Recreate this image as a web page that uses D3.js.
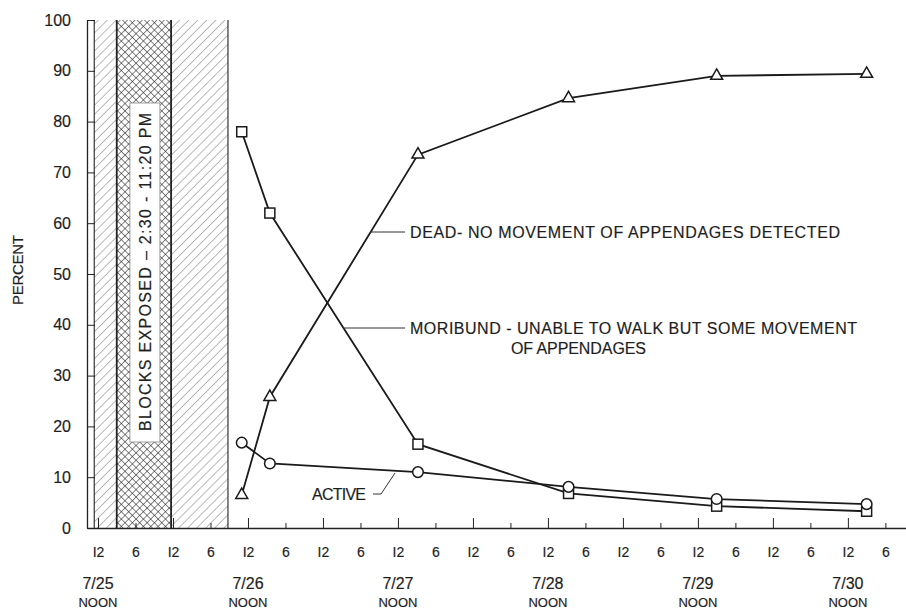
<!DOCTYPE html>
<html>
<head>
<meta charset="utf-8">
<script src="https://cdn.jsdelivr.net/npm/d3@7"></script>
<style>
  html, body { margin: 0; padding: 0; background: #fff; }
  svg { display: block; }
  text { font-family: "Liberation Sans", Arial, sans-serif; fill: #1e1e1e; stroke: #1e1e1e; stroke-width: 0.18px; }
</style>
</head>
<body>
<script>
// Observation times, in hours counted from midnight starting 7/25
const obsHours = [35, 39.5, 63.2, 87.3, 111, 135];

// Percent of insects in each condition at each observation
const deadPct     = [6.5, 25.8, 73.5, 84.6, 89.0, 89.4];
const moribundPct = [78.0, 62.0, 16.5, 6.8, 4.3, 3.3];
const activePct   = [16.8, 12.7, 11.0, 8.1, 5.7, 4.7];

// Shaded periods (hours from 7/25 midnight)
const shadedSpan  = [11.4, 32.8];
const exposedSpan = [15.0, 23.7];

// Axis ticks and labels
const yTicks = [0, 10, 20, 30, 40, 50, 60, 70, 80, 90, 100];
const xTickHours = d3.range(12, 139, 6);
const dayLabels = ["7/25", "7/26", "7/27", "7/28", "7/29", "7/30"];
const dayNoonHours = [12, 36, 60, 84, 108, 132];

const W = 906, H = 610;
const svg = d3.select("body").append("svg").attr("width", W).attr("height", H);

const x = d3.scaleLinear().domain([10.24, 141.3]).range([87, 906]);
const y = d3.scaleLinear().domain([0, 100]).range([528, 20]);

// Fill patterns
const defs = svg.append("defs");
defs.append("pattern")
  .attr("id", "hatch").attr("patternUnits", "userSpaceOnUse")
  .attr("width", 6.4).attr("height", 6.4)
  .attr("patternTransform", "rotate(45)")
  .append("line").attr("x1", 0).attr("y1", 0).attr("x2", 0).attr("y2", 6.4)
  .attr("stroke", "#5c5c5c").attr("stroke-width", 0.85);
const cross = defs.append("pattern")
  .attr("id", "cross").attr("patternUnits", "userSpaceOnUse")
  .attr("width", 5.2).attr("height", 5.2)
  .attr("patternTransform", "rotate(45)");
cross.append("line").attr("x1", 0).attr("y1", 0).attr("x2", 0).attr("y2", 5.2)
  .attr("stroke", "#222").attr("stroke-width", 1.1);
cross.append("line").attr("x1", 0).attr("y1", 0).attr("x2", 5.2).attr("y2", 0)
  .attr("stroke", "#222").attr("stroke-width", 1.1);

// Shaded period and exposure period
svg.append("rect")
  .attr("x", x(shadedSpan[0])).attr("y", y(100))
  .attr("width", x(shadedSpan[1]) - x(shadedSpan[0])).attr("height", y(0) - y(100))
  .attr("fill", "url(#hatch)").attr("stroke", "none");
svg.append("rect")
  .attr("x", x(exposedSpan[0])).attr("y", y(100))
  .attr("width", x(exposedSpan[1]) - x(exposedSpan[0])).attr("height", y(0) - y(100))
  .attr("fill", "#fff");
svg.append("rect")
  .attr("x", x(exposedSpan[0])).attr("y", y(100))
  .attr("width", x(exposedSpan[1]) - x(exposedSpan[0])).attr("height", y(0) - y(100))
  .attr("fill", "url(#cross)");
// Edges of the shaded bands
[[shadedSpan[0], 1.1], [exposedSpan[0], 1.8], [exposedSpan[1], 1.8], [shadedSpan[1], 1.1]].forEach(([h, w]) => {
  svg.append("line").attr("x1", x(h)).attr("x2", x(h)).attr("y1", y(100)).attr("y2", y(0))
    .attr("stroke", "#222").attr("stroke-width", w);
});

// Label box inside the exposure band
const boxCx = (x(exposedSpan[0]) + x(exposedSpan[1])) / 2 + 1;
svg.append("rect")
  .attr("x", boxCx - 15).attr("y", 103).attr("width", 30).attr("height", 339)
  .attr("fill", "#fff").attr("stroke", "#888").attr("stroke-width", 0.8);
svg.append("text")
  .attr("transform", `translate(${boxCx + 6},272) rotate(-90)`)
  .attr("text-anchor", "middle").attr("font-size", 16)
  .attr("textLength", 318).attr("lengthAdjust", "spacing")
  .text("BLOCKS  EXPOSED  –  2:30 - 11:20  PM");

// Y axis, ticks pointing inward
const yAxis = svg.append("g").attr("transform", `translate(${x.range()[0]},0)`)
  .call(d3.axisLeft(y).tickValues(yTicks).tickSize(-8).tickSizeOuter(0).tickPadding(16));
yAxis.select(".domain").attr("stroke", "#222").attr("stroke-width", 1.3);
yAxis.selectAll(".tick line").attr("stroke", "#222").attr("stroke-width", 1);
yAxis.selectAll(".tick text").attr("font-size", 16).attr("fill", "#1e1e1e")
  .style("font-family", "Liberation Sans, Arial, sans-serif");

// X axis, ticks pointing up; taller ticks at 12 o'clock
const xAxis = svg.append("g").attr("transform", `translate(0,${y(0)})`)
  .call(d3.axisBottom(x).tickValues(xTickHours).tickSize(-10).tickSizeOuter(0)
    .tickFormat(h => (h % 12 === 0 ? "I2" : "6")));
xAxis.select(".domain").attr("stroke", "#222").attr("stroke-width", 1.3);
xAxis.selectAll(".tick line").attr("stroke", "#222").attr("stroke-width", 1)
  .attr("y2", h => (h % 12 === 0 ? -10 : -5));
xAxis.selectAll(".tick text").attr("font-size", 14).attr("fill", "#1e1e1e")
  .attr("y", 19).attr("dy", "0.71em")
  .style("font-family", "Liberation Sans, Arial, sans-serif");

// Day labels under the axis
const days = svg.append("g");
days.selectAll("text.day").data(dayLabels).join("text").attr("class", "day")
  .attr("x", (d, i) => x(dayNoonHours[i])).attr("y", 589)
  .attr("text-anchor", "middle").attr("font-size", 16).text(d => d);
days.selectAll("text.noon").data(dayLabels).join("text").attr("class", "noon")
  .attr("x", (d, i) => x(dayNoonHours[i])).attr("y", 607)
  .attr("text-anchor", "middle").attr("font-size", 13).text("NOON");

// Y axis title
svg.append("text")
  .attr("transform", "translate(23,270) rotate(-90)")
  .attr("text-anchor", "middle").attr("font-size", 15)
  .attr("textLength", 70).attr("lengthAdjust", "spacing").text("PERCENT");

// Series lines
const line = d3.line().x((d, i) => x(obsHours[i])).y(d => y(d));
[deadPct, moribundPct, activePct].forEach(vals => {
  svg.append("path").datum(vals).attr("d", line)
    .attr("fill", "none").attr("stroke", "#1a1a1a").attr("stroke-width", 1.8);
});

// Annotation leader lines
const leaders = svg.append("g").attr("stroke", "#333").attr("stroke-width", 1).attr("fill", "none");
leaders.append("line").attr("x1", 370).attr("y1", 232).attr("x2", 405).attr("y2", 232);
leaders.append("line").attr("x1", 343).attr("y1", 328).attr("x2", 405).attr("y2", 328);
leaders.append("path").attr("d", "M373,494 L381,494 L395,473");

// Markers
const markerStyle = sel => sel.attr("fill", "#fff").attr("stroke", "#1a1a1a").attr("stroke-width", 1.5);
svg.append("g").selectAll("path").data(deadPct).join("path")
  .attr("d", d3.symbol(d3.symbolTriangle, 62))
  .attr("transform", (d, i) => `translate(${x(obsHours[i])},${y(d)})`)
  .call(markerStyle);
svg.append("g").selectAll("rect").data(moribundPct).join("rect")
  .attr("x", (d, i) => x(obsHours[i]) - 5).attr("y", d => y(d) - 5)
  .attr("width", 10).attr("height", 10)
  .call(markerStyle);
svg.append("g").selectAll("circle").data(activePct).join("circle")
  .attr("cx", (d, i) => x(obsHours[i])).attr("cy", d => y(d)).attr("r", 5.3)
  .call(markerStyle);

// Annotation texts
const notes = svg.append("g").attr("font-size", 16);
notes.append("text").attr("x", 410).attr("y", 238)
  .attr("textLength", 430).attr("lengthAdjust", "spacing")
  .text("DEAD- NO MOVEMENT  OF  APPENDAGES  DETECTED");
notes.append("text").attr("x", 410).attr("y", 334)
  .attr("textLength", 447).attr("lengthAdjust", "spacing")
  .text("MORIBUND - UNABLE TO WALK BUT SOME MOVEMENT");
notes.append("text").attr("x", 511).attr("y", 354)
  .attr("textLength", 135).attr("lengthAdjust", "spacing")
  .text("OF APPENDAGES");
notes.append("text").attr("x", 312).attr("y", 500)
  .attr("textLength", 54).attr("lengthAdjust", "spacing")
  .text("ACTIVE");
</script>
</body>
</html>
